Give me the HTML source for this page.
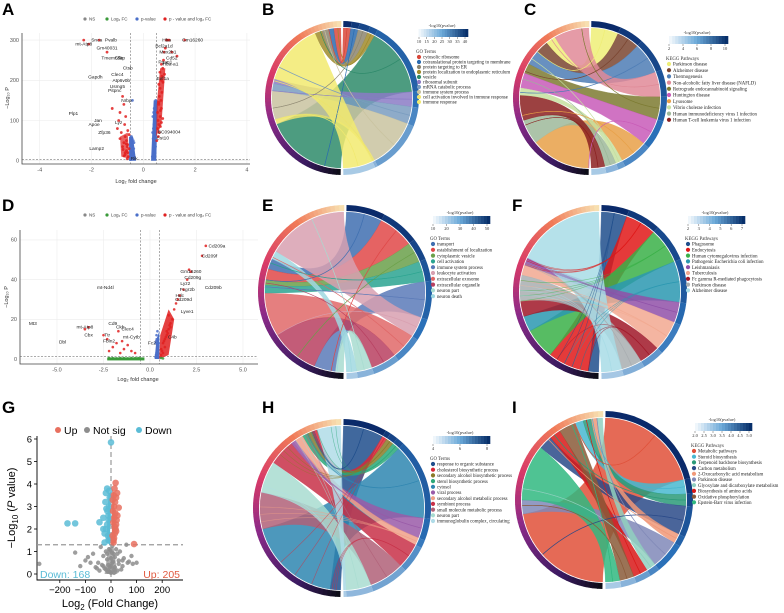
<!DOCTYPE html>
<html><head><meta charset="utf-8"><style>
html,body{margin:0;padding:0;background:#fff;}
svg{display:block;font-family:"Liberation Sans",Arial,sans-serif;}
.serif{font-family:"Liberation Serif",serif;}
</style></head><body>
<svg id="fig" width="784" height="613" viewBox="0 0 784 613" xmlns="http://www.w3.org/2000/svg">
<g font-weight="bold" font-size="17" fill="#000">
<text x="2" y="15">A</text>
<text x="262" y="15">B</text>
<text x="524" y="15">C</text>
<text x="2" y="211">D</text>
<text x="262" y="211">E</text>
<text x="512" y="211">F</text>
<text x="2" y="413">G</text>
<text x="262" y="413">H</text>
<text x="512" y="413">I</text>
</g>
</svg>
<script>
// ---------- volcano data ----------
const aRedX=[0.55,0.6,0.62,0.65,0.7,0.72,0.75,0.78,0.8,0.85,0.9,0.95,1.0,1.1,1.3,1.6,0.6,0.65,0.7,0.68,0.72,0.58,0.62,0.66,0.7,0.75,0.6,0.55,0.52,0.57,-0.55,-0.6,-0.65,-0.7,-0.75,-0.8,-0.85,-0.9,-1.0,-1.2,-1.4,-1.7,-0.6,-0.65,-0.7,-0.72,-0.58,-0.62,-0.68,-0.75,-0.8,-0.55,-0.6,-2.1,-2.3,-0.9,-0.95,0.64,0.7,0.76,0.82,0.66,0.6,-0.62,-0.7,-0.78,-0.66,-0.74];
const aRedY=[120,140,160,180,200,210,230,250,270,280,300,300,300,270,260,300,90,110,130,150,170,60,70,85,95,105,190,80,50,100,30,40,50,60,45,35,70,55,80,130,270,300,20,25,15,90,10,5,110,140,160,65,75,290,300,120,100,220,240,195,215,125,145,35,20,28,42,12];
const aBlueX=[0.35,0.38,0.4,0.42,0.44,0.45,0.36,0.39,0.41,0.43,0.37,0.4,0.42,0.45,0.47,0.38,0.41,0.44,0.46,0.48,-0.35,-0.38,-0.4,-0.42,-0.45,-0.37,-0.41,-0.44,-0.36,-0.39,-0.43,-0.46,-0.48,-0.4,-0.42];
const aBlueY=[10,20,30,40,50,60,70,80,90,100,110,120,130,140,35,55,75,95,115,150,5,10,15,20,25,30,35,40,45,50,55,60,3,8,150];
const aTicksX=[-4,-2,0,2,4];
const aTicksY=[0,100,200,300];
const dRedX=[0.6,0.7,0.8,0.9,1.0,1.1,1.2,1.3,1.4,1.5,1.6,1.8,2.0,2.1,2.2,2.8,3.0,0.7,0.8,0.9,1.0,1.1,0.6,0.65,0.75,0.85,0.95,1.05,-2.2,-2.0,-1.8,-1.6,-1.4,-1.2,-1.0,-0.8,-2.5,-3.3,-3.5,-2.3,-1.7,-1.5];
const dRedY=[5,8,10,12,15,18,20,25,28,30,32,35,40,45,44,52,57,3,6,14,22,16,2,4,9,11,13,17,4,6,8,3,5,7,4,3,12,16,15,10,14,9];
const dBlueX=[0.3,0.32,0.35,0.38,0.4,0.42,0.45,0.3,0.33,0.36,0.39,0.41,0.44,0.47,0.35,0.4];
const dBlueY=[1,2,3,4,5,6,7,8,9,10,2,4,6,8,12,14];
const dGreenX=[-2.2,-2.0,-1.8,-1.6,-1.4,-1.2,-1.0,-0.8,-0.7,-0.6,0.6,0.7];
const dGreenY=[0.5,0.4,0.3,0.5,0.4,0.3,0.5,0.4,0.3,0.5,0.5,0.3];
const dTicksX=[-5,-2.5,0,2.5,5];
const dTickLab=["-5.0","-2.5","0.0","2.5","5.0"];
const dTicksY=[0,20,40,60];
const gUpX=[10,12,15,18,20,22,25,8,12,16,20,24,14,18,30,90,10,15,20,6,9,13,17,7,11];
const gUpY=[1.4,1.6,1.8,2.0,2.2,2.4,2.6,2.8,3.0,3.2,3.4,3.6,3.8,4.05,2.95,1.33,1.5,2.1,1.9,1.7,2.3,2.5,2.7,3.3,3.5];
const gDownX=[0,-170,-140,-45,-30,-25,-20,-15,-10,-8,-5,-20,-15,-10,-25,-30,-12,-18,-6,-9,-14,-22,-7];
const gDownY=[5.85,2.25,2.25,2.3,2.5,1.8,2.0,2.2,2.6,3.0,3.4,3.6,3.8,1.5,1.4,2.0,1.7,2.9,1.6,2.4,2.8,3.2,3.7];
const gNsX=[-280,-140,-100,-80,-60,-40,-30,-20,-10,0,10,20,30,40,60,80,100,-50,-20,5,15,25,50,70,-70,-35,-5,35,-15,45,65,85,-90,-120,-10,-5,0,5,10,-25,25,-15,15,-8,8,-30,30,-45,45,-55,0,12,-12,3,-3];
const gNsY=[0.45,0.95,0.6,0.5,0.3,1.2,0.8,1.0,0.4,0.7,0.9,1.1,0.6,0.2,1.3,0.8,0.5,0.5,0.2,1.25,0.3,0.9,0.7,0.55,0.9,0.4,0.1,1.0,0.65,0.35,0.5,0.45,0.75,0.35,0.15,0.3,0.05,0.5,0.2,0.25,0.15,0.9,0.75,1.1,0.55,0.35,0.45,0.15,0.6,0.25,0.35,0.05,0.1,0.95,1.05];
const gTicksX=[-200,-100,0,100,200];
const gTicksY=[0,1,2,3,4,5,6];

const NS="http://www.w3.org/2000/svg";
const svg=document.getElementById('fig');
function el(tag,attrs,parent,text){const e=document.createElementNS(NS,tag);for(const k in attrs)e.setAttribute(k,attrs[k]);if(text!==undefined)e.textContent=text;(parent||svg).appendChild(e);return e;}

function volcanoFrame(g,L,R,T,B,X,Y,ticksX,tickLabX,ticksY,fs){
  ticksX.forEach((t,i)=>{const l=el('line',{x1:X(t),x2:X(t),y1:T,y2:B,stroke:'#ececec','stroke-width':0.6},g);
    });
  ticksY.forEach(t=>{const l=el('line',{x1:L,x2:R,y1:Y(t),y2:Y(t),stroke:'#ececec','stroke-width':0.6},g);
    });
  const ax=el('path',{d:`M${L},${T}V${B}H${R}`,fill:'none',stroke:'#444','stroke-width':0.8},g);
  
  ticksX.forEach((t,i)=>{const tx=el('text',{x:X(t),y:B+fs+2,'font-size':fs,'text-anchor':'middle',fill:'#555'},g,tickLabX[i]);
    });
  ticksY.forEach(t=>{const tx=el('text',{x:L-3,y:Y(t)+fs/3,'font-size':fs,'text-anchor':'end',fill:'#555'},g,String(t));
    });
}
function pts(g,xs,ys,X,Y,r,fill,stroke,name){xs.forEach((v,i)=>{const c=el('circle',{cx:X(v),cy:Y(ys[i]),r:r,fill:fill,stroke:stroke||'none','stroke-width':0.3,'fill-opacity':0.85},g);
  });}
function legendSmall(g,y,x0,items){let x=x0;items.forEach(it=>{const c=el('circle',{cx:x,cy:y,r:1.6,fill:it[1]},g);
  
  const t=el('text',{x:x+4,y:y+1.6,'font-size':4.5,fill:'#444'},g,it[0]);x+=it[2];});}
(function(){
  const g=el('g',{});
  const X=v=>143.3+v*25.9, Y=v=>160.7-v*0.402;
  volcanoFrame(g,22,250,33,164,X,Y,aTicksX,aTicksX.map(String),aTicksY,5.5);
  [-0.5,0.5].forEach(v=>el('line',{x1:X(v),x2:X(v),y1:33,y2:164,stroke:'#555','stroke-width':0.5,'stroke-dasharray':'2,1.5'},g));
  el('line',{x1:22,x2:250,y1:Y(3),y2:Y(3),stroke:'#555','stroke-width':0.5,'stroke-dasharray':'2,1.5'},g);
  el('path',{d:`M${X(0.3)},${Y(0)}L${X(0.5)},${Y(0)}L${X(0.56)},${Y(150)}L${X(0.4)},${Y(150)}Z`,fill:'#4a6fc9'},g);
  el('path',{d:`M${X(-0.55)},${Y(0)}L${X(-0.28)},${Y(0)}L${X(-0.4)},${Y(60)}L${X(-0.55)},${Y(60)}Z`,fill:'#4a6fc9'},g);
  el('path',{d:`M${X(0.5)},${Y(60)}L${X(0.7)},${Y(90)}L${X(0.85)},${Y(230)}L${X(0.65)},${Y(230)}L${X(0.52)},${Y(140)}Z`,fill:'#e02020','fill-opacity':0.8},g);
  el('path',{d:`M${X(-0.55)},${Y(5)}L${X(-0.85)},${Y(10)}L${X(-0.9)},${Y(60)}L${X(-0.6)},${Y(70)}Z`,fill:'#e02020','fill-opacity':0.7},g);
  pts(g,aBlueX,aBlueY,X,Y,1.4,'#4a6fc9',null,'point-pvalue');
  pts(g,aRedX,aRedY,X,Y,1.4,'#e02020',null,'point-sig');
  legendSmall(g,19,85,[['NS','#888',22],['Log₂ FC','#3a9a3a',30],['p-value','#4a6fc9',28],['p - value and log₂ FC','#e02020',50]]);
  const labs=[['Snca',-1.8,300],['Pvalb',-1.25,300],['mt-Atp8',-2.3,290],['Gm40031',-1.4,280],['Tmem55b',-1.2,255],['Gapdh',-1.85,208],['Clec4',-1.0,215],['Atp6v0b',-0.85,200],['Usmg5',-1.0,185],['Pitpnc',-1.1,175],['Nrbp',-0.65,150],['Plp1',-2.7,118],['Jan',-1.75,100],['Apoe',-1.9,90],['Lyz',-0.95,95],['Zfp36',-1.5,70],['Lamp2',-1.8,30],['Cfap',-0.9,255],['Ctsb',-0.6,230],['Hba',0.9,300],['Gm16260',1.9,300],['Bcl2a1d',0.8,285],['Mex2b1',0.95,270],['Cd52',1.1,255],['Pgap1',0.85,245],['Hba-a1',1.05,240],['Eef1a',0.75,205],['BC094004',1.0,72],['Cst10',0.75,56],['Rik',-0.35,5]];
  labs.forEach(l=>{const t=el('text',{x:X(l[1]),y:Y(l[2])+1.5,'font-size':4.8,fill:'#222','text-anchor':'middle'},g,l[0]);});
  const xt=el('text',{x:136,y:183,'font-size':5.5,'text-anchor':'middle',fill:'#333'},g,'Log₂ fold change');
  const yt=el('text',{x:0,y:0,'font-size':5.5,'text-anchor':'middle',fill:'#333',transform:'translate(9,98) rotate(-90)'},g,'−Log₁₀ P');
})();
(function(){
  const g=el('g',{});
  const X=v=>150+v*18.6, Y=v=>359-v*1.985;
  volcanoFrame(g,20,258,230,364,X,Y,dTicksX,dTickLab,dTicksY,5.5);
  [-0.5,0.5].forEach(v=>el('line',{x1:X(v),x2:X(v),y1:230,y2:364,stroke:'#555','stroke-width':0.5,'stroke-dasharray':'2,1.5'},g));
  el('line',{x1:20,x2:258,y1:Y(1.3),y2:Y(1.3),stroke:'#555','stroke-width':0.5,'stroke-dasharray':'2,1.5'},g);
  el('rect',{x:X(-2.3),y:Y(0.8),width:X(-0.3)-X(-2.3),height:3,fill:'#3a9a3a'},g);
  el('path',{d:`M${X(0.25)},${Y(0)}L${X(0.5)},${Y(0)}L${X(0.5)},${Y(14)}L${X(0.35)},${Y(10)}Z`,fill:'#4a6fc9'},g);
  el('path',{d:`M${X(0.5)},${Y(0)}L${X(1.0)},${Y(2)}L${X(1.3)},${Y(20)}L${X(1.0)},${Y(25)}L${X(0.55)},${Y(12)}Z`,fill:'#e02020','fill-opacity':0.85},g);
  pts(g,dGreenX,dGreenY,X,Y,1.3,'#3a9a3a',null,'point-fc');
  pts(g,dBlueX,dBlueY,X,Y,1.3,'#4a6fc9',null,'point-pvalue');
  pts(g,dRedX,dRedY,X,Y,1.3,'#e02020',null,'point-sig');
  legendSmall(g,215,85,[['NS','#888',22],['Log₂ FC','#3a9a3a',30],['p-value','#4a6fc9',28],['p - value and log₂ FC','#e02020',50]]);
  const labs=[['Cd209a',3.6,57],['Cd209f',3.2,52],['Gm16260',2.2,44],['Cd209g',2.3,41],['Lyz2',1.9,38],['Fcgr2b',2.0,35],['Cd209b',3.4,36],['Hdc',1.6,32],['Cd209d',1.8,30],['Lyve1',2.0,24],['mt-Nd4l',-2.4,36],['Mt3',-6.3,18],['mt-Atp8',-3.5,16],['Cbx',-3.3,12],['Dbl',-4.7,8.5],['Cd9',-2.0,18],['Ckb',-1.6,16],['Clec4',-1.2,15],['mt-Cytb',-1.0,11],['Ttr',-2.3,12],['Fbln2',-2.2,9],['Fc2',0.1,8],['C4b',1.2,11]];
  labs.forEach(l=>{const t=el('text',{x:X(l[1]),y:Y(l[2])+1.5,'font-size':4.8,fill:'#222','text-anchor':'middle'},g,l[0]);});
  const xt=el('text',{x:138,y:381,'font-size':5.5,'text-anchor':'middle',fill:'#333'},g,'Log₂ fold change');
  const yt=el('text',{x:0,y:0,'font-size':5.5,'text-anchor':'middle',fill:'#333',transform:'translate(8,297) rotate(-90)'},g,'−Log₁₀ P');
})();
(function(){
  const g=el('g',{});
  const X=v=>111+v*0.256, Y=v=>574-v*22.5;
  const ax=el('path',{d:'M37,436V580H183',fill:'none',stroke:'#000','stroke-width':0.9},g);
  gTicksX.forEach(t=>{el('line',{x1:X(t),x2:X(t),y1:580,y2:583,stroke:'#000','stroke-width':0.8},g);
    const tx=el('text',{x:X(t),y:593,'font-size':9.5,'text-anchor':'middle'},g,t<0?'−'+(-t):String(t));});
  gTicksY.forEach(t=>{el('line',{x1:34,x2:37,y1:Y(t),y2:Y(t),stroke:'#000','stroke-width':0.8},g);
    const tx=el('text',{x:32,y:Y(t)+3.4,'font-size':9.5,'text-anchor':'end'},g,String(t));});
  el('line',{x1:X(0),x2:X(0),y1:436,y2:580,stroke:'#999','stroke-width':1.2,'stroke-dasharray':'5,3'},g);
  el('line',{x1:37,x2:183,y1:Y(1.3),y2:Y(1.3),stroke:'#999','stroke-width':1.2,'stroke-dasharray':'5,3'},g);
  el('path',{d:`M${X(-25)},${Y(0)}L${X(25)},${Y(0)}L${X(10)},${Y(1.2)}L${X(-10)},${Y(1.2)}Z`,fill:'#9a9a9a','fill-opacity':0.8},g);
  el('path',{d:`M${X(-4)},${Y(1.3)}L${X(-18)},${Y(1.4)}L${X(-10)},${Y(3.6)}L${X(-2)},${Y(3.6)}Z`,fill:'#5bbcd6'},g);
  el('path',{d:`M${X(3)},${Y(1.3)}L${X(18)},${Y(1.4)}L${X(12)},${Y(3.6)}L${X(5)},${Y(3.8)}Z`,fill:'#e8705f'},g);
  pts(g,gNsX,gNsY,X,Y,2.2,'#8d8d8d',null,'point-not-sig');
  pts(g,gDownX,gDownY,X,Y,3.3,'#5bbcd6',null,'point-down');
  pts(g,gUpX,gUpY,X,Y,3.3,'#e8705f',null,'point-up');
  [['Up','#e8705f',58],['Not sig','#8d8d8d',87],['Down','#5bbcd6',139]].forEach(it=>{
    const c=el('circle',{cx:it[2],cy:430,r:3,fill:it[1]},g);
    const t=el('text',{x:it[2]+6,y:434,'font-size':10.5},g,it[0]);});
  const d=el('text',{x:40,y:578,'font-size':10.5,fill:'#5bbcd6'},g,'Down: 168');
  const u=el('text',{x:180,y:578,'font-size':10.5,fill:'#e05a40','text-anchor':'end'},g,'Up: 205');
  const xt=el('text',{x:110,y:607,'font-size':11,'text-anchor':'middle'},g,'');
  el('tspan',{},xt,'Log');el('tspan',{'font-size':8,dy:3},xt,'2');el('tspan',{dy:-3},xt,' (Fold Change)');
  const yt=el('text',{x:0,y:0,'font-size':11,'text-anchor':'middle',transform:'translate(15,508) rotate(-90)'},g,'');
  el('tspan',{},yt,'−Log');el('tspan',{'font-size':8,dy:3},yt,'10');el('tspan',{dy:-3},yt,' (');el('tspan',{'font-style':'italic'},yt,'P');el('tspan',{},yt,' value)');
})();

// ---------- Chord diagrams ----------
const bNames=["cytosolic ribosome","cotranslational protein targeting to membrane","protein targeting to ER","protein localization to endoplasmic reticulum","vesicle","ribosomal subunit","mRNA catabolic process","immune system process","cell activation involved in immune response","immune response"];
const bColors=["#d9473a","#2a6bb0","#8c8570","#a08b2a","#2e8b6a","#8b7bc6","#7a9cbf","#c9c3a0","#ece36e","#f2ea70"];
const bWeights=[3,3,4,3,28,6,7,20,1,12];
const bLeftW=[3,2,3,3,34,2,3,12,2,26];
const bOrder=[4,8,7,6,5,9,3,2,1,0];
const cNames=["Parkinson disease","Alzheimer disease","Thermogenesis","Non-alcoholic fatty liver disease (NAFLD)","Retrograde endocannabinoid signaling","Huntington disease","Lysosome","Vibrio cholerae infection","Human immunodeficiency virus 1 infection","Human T-cell leukemia virus 1 infection"];
const cColors=["#eeee77","#7a4530","#4e7db5","#e08a98","#7c7a30","#c85ab8","#e8a048","#c6e0a0","#9db89a","#8b2020"];
const cWeights=[12,10,14,11,10,12,12,3,5,6];
const cLeftW=[4,5,6,14,4,6,24,3,10,10];
const cOrder=[6,8,9,7,5,4,2,1,0,3];
const eNames=["transport","establishment of localization","cytoplasmic vesicle","cell activation","immune system process","leukocyte activation","extracellular exosome","extracellular organelle","neuron part","neuron death"];
const eColors=["#3f6fb0","#e04848","#6aa04a","#2aa390","#5a7ab8","#d8a0b0","#e06868","#b84060","#a8dcd0","#a0d8e0"];
const eWeights=[14,14,8,8,14,8,10,10,6,4];
const eLeftW=[4,4,2,3,8,30,16,18,3,3];
const eOrder=[8,4,7,6,3,2,1,0,9,5];
const fNames=["Phagosome","Endocytosis","Human cytomegalovirus infection","Pathogenic Escherichia coli infection","Leishmaniasis","Tuberculosis","Fc gamma R-mediated phagocytosis","Parkinson disease","Alzheimer disease"];
const fColors=["#1f4e8c","#e01818","#3ab048","#2a98b0","#9050a8","#f2a890","#a01828","#a8aeb0","#a8dce6"];
const fWeights=[10,12,14,16,8,12,8,8,8];
const fLeftW=[4,16,12,6,3,4,6,10,34];
const fOrder=[0,1,2,3,6,7,5,4,8];
const hNames=["response to organic substance","cholesterol biosynthetic process","secondary alcohol biosynthetic process","sterol biosynthetic process","cytosol","viral process","secondary alcohol metabolic process","symbiont process","small molecule metabolic process","neuron part","immunoglobulin complex, circulating"];
const hColors=["#1f4e8c","#d82838","#8a7a28","#2aa878","#2e86b0","#9a5aa8","#f0a088","#c83048","#b06078","#a8dcd0","#b0dce8"];
const hWeights=[16,2,3,3,30,8,3,10,14,10,1];
const hLeftW=[4,2,2,2,36,2,3,10,14,12,9];
const hOrder=[0,4,8,9,7,5,6,3,2,1,10];
const iNames=["Metabolic pathways","Steroid biosynthesis","Terpenoid backbone biosynthesis","Carbon metabolism","2-Oxocarboxylic acid metabolism","Parkinson disease","Glyoxylate and dicarboxylate metabolism","Biosynthesis of amino acids","Oxidative phosphorylation","Epstein-Barr virus infection"];
const iColors=["#e05038","#48b8d0","#2a9a78","#2a4a88","#f09878","#8088b8","#90d0c0","#d81818","#8a5a38","#30b880"];
const iWeights=[44,6,5,12,4,12,4,6,6,6];
const iLeftW=[40,3,3,5,2,5,2,4,6,20];
const iOrder=[0,5,9,3,7,8,1,2,4,6];

function lerp(a,b,t){return a+(b-a)*t;}
function hex(c){return [parseInt(c.slice(1,3),16),parseInt(c.slice(3,5),16),parseInt(c.slice(5,7),16)];}
function grad(stops,t){for(let i=0;i<stops.length-1;i++){if(t<=stops[i+1][0]){const u=(t-stops[i][0])/(stops[i+1][0]-stops[i][0]);const a=hex(stops[i][1]),b=hex(stops[i+1][1]);return `rgb(${Math.round(lerp(a[0],b[0],u))},${Math.round(lerp(a[1],b[1],u))},${Math.round(lerp(a[2],b[2],u))})`;}}return stops[stops.length-1][1];}
function P(cx,cy,r,a){const t=a*Math.PI/180;return [cx+r*Math.sin(t),cy-r*Math.cos(t)];}
function arcSeg(g,cx,cy,r1,r2,a0,a1,fill){const p0=P(cx,cy,r2,a0),p1=P(cx,cy,r2,a1),q1=P(cx,cy,r1,a1),q0=P(cx,cy,r1,a0);const lg=(a1-a0)>180?1:0;
  return el('path',{d:`M${p0}A${r2},${r2} 0 ${lg} 1 ${p1}L${q1}A${r1},${r1} 0 ${lg} 0 ${q0}Z`,fill:fill},g);}
function drawChord(name,cx,cy,r,names,colors,wR,wL,order,legend){
  const g=el('g',{});
  const sR=wR.reduce((a,b)=>a+b,0), sL=wL.reduce((a,b)=>a+b,0);
  let a=1;const rs=[];wR.forEach(w=>{const s=w/sR*178;rs.push([a,a+s]);a+=s;});
  let b=181;const ls=[];order.forEach(k=>{const s=wL[k]/sL*178;ls[k]=[b,b+s];b+=s;});
  const lst=[[0,'#0d0d18'],[0.15,'#3a1a60'],[0.4,'#8a2a88'],[0.6,'#d83a68'],[0.8,'#f07a58'],[1,'#f8e8b8']];
  for(let i=0;i<60;i++){const s=arcSeg(g,cx,cy,r+1,r+7,181+i*178/60,181+(i+1)*178/60+0.5,grad(lst,i/60));}
  const bst=[[0,'#0a2a6a'],[0.5,'#2a70b8'],[1,'#c8e0f0']];
  rs.forEach((s,k)=>{const seg=arcSeg(g,cx,cy,r+1,r+7,s[0],s[1],grad(bst,k/(rs.length)));});
  // ribbons
  names.forEach((n,k)=>{const [a0,a1]=rs[k],[b0,b1]=ls[k];
    const p0=P(cx,cy,r,a0),p1=P(cx,cy,r,a1),q0=P(cx,cy,r,b0),q1=P(cx,cy,r,b1);
    const la=(a1-a0)>180?1:0,lb=(b1-b0)>180?1:0;
    const rib=el('path',{d:`M${p0}A${r},${r} 0 ${la} 1 ${p1}Q${cx},${cy} ${q0}A${r},${r} 0 ${lb} 1 ${q1}Q${cx},${cy} ${p0}Z`,fill:colors[k],'fill-opacity':0.85,stroke:colors[k],'stroke-width':0.3},g);
    });
  // thin cross lines
  for(let i=0;i<30;i++){const k=i%names.length;const ra=rs[k],la=ls[(k*3+1)%names.length];
    const p=P(cx,cy,r,lerp(ra[0],ra[1],0.5)),q=P(cx,cy,r,lerp(la[0],la[1],(i%5)/5));
    const l=el('path',{d:`M${p}Q${cx},${cy} ${q}`,fill:'none',stroke:colors[k],'stroke-width':0.6,'stroke-opacity':0.6},g);
    }
  const [lx,ly,sp,bx,bw,ticks,title]=legend;
  const lg=el('g',{'class':'serif'},g);
  const t0=el('text',{x:bx+bw/2,y:ly-28,'font-size':4.5,'text-anchor':'middle',fill:'#333'},lg,'-log10(pvalue)');
  for(let i=0;i<20;i++){el('rect',{x:bx+i*bw/20,y:ly-26,width:bw/20+0.3,height:8,fill:grad([[0,'#ffffff'],[0.5,'#6aa8d8'],[1,'#08306b']],i/19)},lg);}
  ticks.forEach((t,i)=>{const x=bx+3+i*(bw-6)/(ticks.length-1);el('line',{x1:x,x2:x,y1:ly-18,y2:ly-16,stroke:'#333','stroke-width':0.4},lg);
    const tt=el('text',{x:x,y:ly-12,'font-size':4.5,'text-anchor':'middle',fill:'#333'},lg,t);});
  const tt=el('text',{x:lx-3,y:ly-2,'font-size':4.8,fill:'#333'},lg,title);
  names.forEach((n,k)=>{const y=ly+2+k*sp;const c=el('circle',{cx:lx,cy:y,r:2.1,fill:colors[k]},lg);
    const t=el('text',{x:lx+4,y:y+1.7,'font-size':4.8,fill:'#222'},lg,n);});
}
drawChord('chord-b',342,98,70,bNames,bColors,bWeights,bLeftW,bOrder,[419,55,5,416,52,['10','15','20','25','30','35','40'],'GO Terms']);
drawChord('chord-c',590,98,70,cNames,cColors,cWeights,cLeftW,cOrder,[669,62,6.2,666,62,['2','4','6','8','10'],'KEGG Pathways']);
drawChord('chord-e',345,292,80,eNames,eColors,eWeights,eLeftW,eOrder,[433,242,5.8,430,60,['10','20','30','40','50'],'GO Terms']);
drawChord('chord-f',600,292,80,fNames,fColors,fWeights,fLeftW,fOrder,[688,242,5.8,685,60,['2','3','4','5','6','7'],'KEGG Pathways']);
drawChord('chord-h',342,508,82,hNames,hColors,hWeights,hLeftW,hOrder,[433,462,5.7,430,60,['4','6','8'],'GO Terms']);
drawChord('chord-i',604,500,82,iNames,iColors,iWeights,iLeftW,iOrder,[694,449,5.7,692,60,['2.0','2.5','3.0','3.5','4.0','4.5','5.0'],'KEGG Pathways']);
</script>
</body></html>
